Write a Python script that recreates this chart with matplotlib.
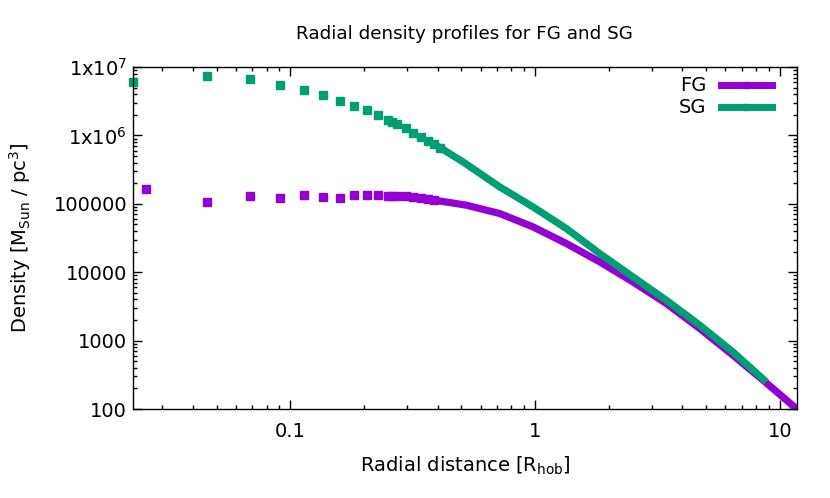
import numpy as np
import matplotlib
matplotlib.use('Agg')
import matplotlib.pyplot as plt
from matplotlib.ticker import FixedLocator, FuncFormatter, LogLocator, NullFormatter

# radial bins [R_hob] and densities [M_sun/pc^3]
r_fg = [0.0258, 0.0455, 0.0682, 0.0910, 0.1137, 0.1365, 0.1592, 0.1820, 0.2047,
        0.2275, 0.2502, 0.2600, 0.2730, 0.2957, 0.3185, 0.3412, 0.3640, 0.3867,
        0.45, 0.523, 0.716, 0.98, 1.341, 1.835, 2.512, 3.44, 4.71, 6.44, 8.82, 11.74]
rho_fg = [1.66e5, 1.08e5, 1.31e5, 1.22e5, 1.35e5, 1.24e5, 1.22e5, 1.35e5, 1.35e5,
          1.34e5, 1.30e5, 1.30e5, 1.30e5, 1.30e5, 1.27e5, 1.20e5, 1.17e5, 1.13e5,
          1.04e5, 9.55e4, 7.22e4, 4.6e4, 2.63e4, 1.42e4, 7.21e3, 3.48e3, 1.5e3, 610, 240, 100]

r_sg = [0.0227, 0.0455, 0.0682, 0.0910, 0.1137, 0.1365, 0.1592, 0.1820, 0.2047,
        0.2275, 0.2502, 0.2600, 0.2730, 0.2957, 0.3185, 0.3412, 0.3640, 0.3867,
        0.4095, 0.507, 0.716, 0.98, 1.341, 1.835, 2.512, 3.44, 4.71, 6.44, 8.82]
rho_sg = [6.1e6, 7.38e6, 6.67e6, 5.4e6, 4.6e6, 3.89e6, 3.21e6, 2.72e6, 2.35e6,
          1.99e6, 1.68e6, 1.56e6, 1.45e6, 1.27e6, 1.09e6, 9.55e5, 8.35e5, 7.4e5,
          6.6e5, 4.11e5, 1.77e5, 9.02e4, 4.36e4, 1.88e4, 8.53e3, 3.89e3, 1.68e3, 681, 248]

labels = ['FG', 'SG']
colors = ['#9400d3', '#009e73']

plt.rcParams['font.family'] = 'DejaVu Sans'
plt.rcParams['font.size'] = 14

fig = plt.figure(figsize=(8.3, 4.98), dpi=100)
ax = fig.add_axes([0.160, 0.1787, 0.800, 0.6868])

for r, rho, lab, col in zip([r_fg, r_sg], [rho_fg, rho_sg], labels, colors):
    r = np.array(r)
    rho = np.array(rho)
    dense = r >= 0.38
    sparse = r <= 0.42
    # thick band where the bins pile up, single squares further in
    ax.plot(r[dense], rho[dense], '-', color=col, lw=5.2, solid_capstyle='butt')
    ax.plot(r[sparse], rho[sparse], 's', color=col, ms=5.5, mec=col, clip_on=False)
    ax.plot([], [], '-s', color=col, lw=5, ms=5, label=lab)

ax.set_xscale('log')
ax.set_yscale('log')
ax.set_xlim(r_sg[0], r_fg[-1])
ax.set_ylim(100, 1e7)

ax.xaxis.set_major_locator(FixedLocator([0.1, 1, 10]))
ax.xaxis.set_major_formatter(FuncFormatter(lambda v, p: '%g' % v))
ax.xaxis.set_minor_locator(LogLocator(base=10, subs=np.arange(2, 10)))
ax.xaxis.set_minor_formatter(NullFormatter())

def yfmt(v, p):
    if v >= 1e6:
        return r'1x10$^{%d}$' % int(round(np.log10(v)))
    return '%d' % int(round(v))

ax.yaxis.set_major_locator(FixedLocator([1e2, 1e3, 1e4, 1e5, 1e6, 1e7]))
ax.yaxis.set_major_formatter(FuncFormatter(yfmt))
ax.yaxis.set_minor_locator(LogLocator(base=10, subs=np.arange(2, 10)))
ax.yaxis.set_minor_formatter(NullFormatter())

ax.tick_params(which='both', direction='in', top=True, right=True, width=1, labelsize=14)
ax.tick_params(which='major', length=6.5)
ax.tick_params(which='minor', length=3.2)
ax.tick_params(axis='x', pad=9)
ax.tick_params(axis='y', pad=4)
for s in ax.spines.values():
    s.set_linewidth(1)

ax.set_title('Radial density profiles for FG and SG', fontsize=13.2, pad=20)
ax.set_xlabel(r'Radial distance [R$_{\rm hob}$]', fontsize=14, labelpad=10)
ax.set_ylabel(r'Density [M$_{\rm Sun}$ / pc$^3$]', fontsize=14, labelpad=15)

ax.legend(loc='upper right', bbox_to_anchor=(0.974, 0.995), frameon=False,
          markerfirst=False, handlelength=2.6, handletextpad=0.75,
          labelspacing=0.15, borderaxespad=0, fontsize=14, numpoints=1)

fig.savefig('out.png', dpi=100)
